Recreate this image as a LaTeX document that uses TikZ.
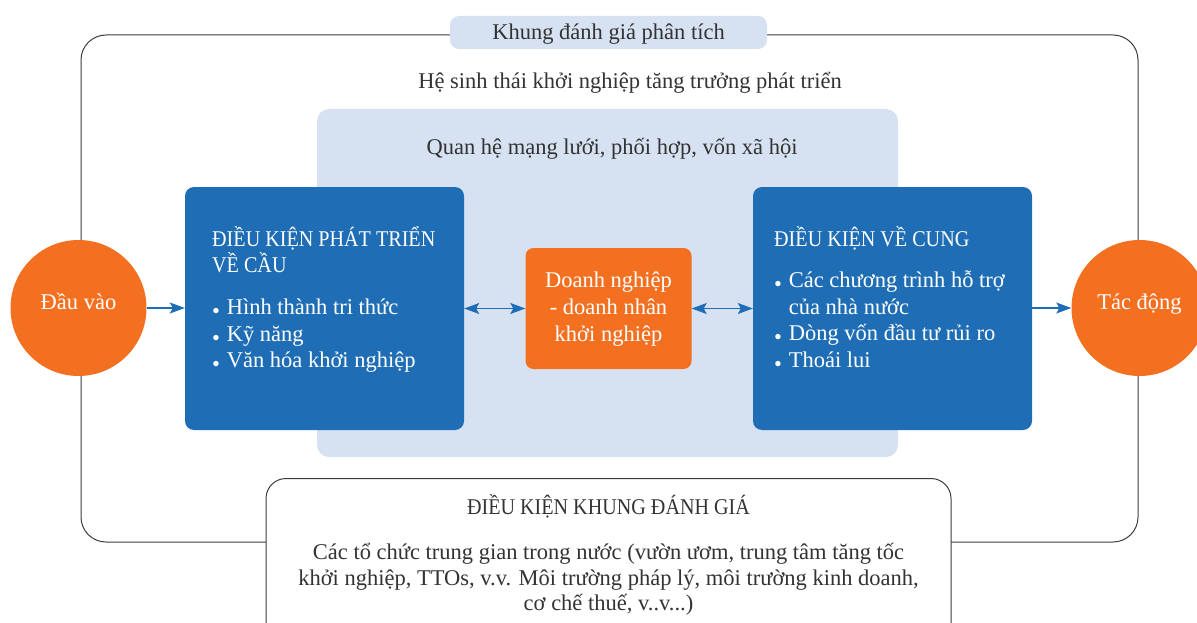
\documentclass[tikz,border=0pt]{standalone}
\usepackage{fontspec}
\setmainfont{Liberation Serif}
\newfontfamily\capsfont[FakeStretch=0.895]{Liberation Serif}
\usetikzlibrary{arrows.meta}
\definecolor{cblue}{RGB}{31,110,181}
\definecolor{corange}{RGB}{243,112,33}
\definecolor{cpale}{RGB}{214,225,242}
\definecolor{ctext}{RGB}{51,51,51}
\definecolor{cline}{RGB}{60,60,60}
\newcommand\bul{\makebox[14.6pt][l]{\raisebox{-4pt}{•}}}
\begin{document}
\begin{tikzpicture}[x=1pt,y=-1pt,
  txt/.style={inner sep=0pt, font=\fontsize{22.5}{27}\selectfont, text=ctext},
  wtxt/.style={txt, text=white},
  capstxt/.style={font=\fontsize{22.5}{27}\selectfont\capsfont},
  arr/.style={draw=cblue, line width=1.2pt, -{Stealth[length=15pt,width=11pt,inset=3pt]}},
  darr/.style={draw=cblue, line width=1.2pt, {Stealth[length=15pt,width=11pt,inset=3pt]}-{Stealth[length=15pt,width=11pt,inset=3pt]}},
  bluebox/.style={fill=cblue, rounded corners=9pt, inner sep=0pt, minimum width=279pt, minimum height=243pt},
  circ/.style={circle, fill=corange, minimum size=136pt, inner sep=0pt}
]
\useasboundingbox (0,0) rectangle (1197,623);
\clip (0,0) rectangle (1197,623);
% outer frame
\node[draw=cline, line width=1pt, rounded corners=25pt, inner sep=0pt, minimum width=1057pt, minimum height=507pt] (frame) at (609.5,288.5) {};
\node[fill=cpale, rounded corners=9pt, inner sep=0pt, minimum width=317pt, minimum height=33pt] (lab) at (608.5,32.5) {};
\node[txt, anchor=base] (t0) at (608.5,40) {Khung đánh giá phân tích};
\node[txt, anchor=base] (t1) at (630,89) {Hệ sinh thái khởi nghiệp tăng trưởng phát triển};
% pale panel
\node[fill=cpale, rounded corners=12pt, inner sep=0pt, minimum width=581pt, minimum height=348pt] (panel) at (607.5,283) {};
\node[txt, anchor=base] (t2) at (612,154) {Quan hệ mạng lưới, phối hợp, vốn xã hội};
% boxes
\node[bluebox] (lbox) at (324.5,308.5) {};
\node[bluebox] (rbox) at (892.5,308.5) {};
\node[fill=corange, rounded corners=8pt, inner sep=0pt, minimum width=166pt, minimum height=121pt] (org) at (608.5,308.5) {};
\node[circ] (in) at (78.5,308) {};
\node[circ] (out) at (1139.5,308) {};
% bottom box
\node[draw=cline, line width=1pt, fill=white, rounded corners=20pt, inner sep=0pt, minimum width=685pt, minimum height=200pt, anchor=north] (fbox) at (608.5,478) {};
% texts
\node[wtxt, anchor=base] (tin) at (78.5,309) {Đầu vào};
\node[wtxt, anchor=base] (tout) at (1139.5,309) {Tác động};
\node[wtxt, capstxt, anchor=base west] (l1) at (212,246) {ĐIỀU KIỆN PHÁT TRIỂN};
\node[wtxt, capstxt, anchor=base west] (l2) at (212,272.7) {VỀ CẦU};
\node[wtxt, anchor=base west] (l3) at (212,314.3) {\bul Hình thành tri thức};
\node[wtxt, anchor=base west] (l4) at (212,341) {\bul Kỹ năng};
\node[wtxt, anchor=base west] (l5) at (212,367.5) {\bul Văn hóa khởi nghiệp};
\node[wtxt, anchor=base] (o1) at (608.5,287.7) {Doanh nghiệp};
\node[wtxt, anchor=base] (o2) at (608.5,314.3) {- doanh nhân};
\node[wtxt, anchor=base] (o3) at (608.5,341) {khởi nghiệp};
\node[wtxt, capstxt, anchor=base west] (r1) at (774,246) {ĐIỀU KIỆN VỀ CUNG};
\node[wtxt, anchor=base west] (r2) at (774,287.7) {\bul Các chương trình hỗ trợ};
\node[wtxt, anchor=base west] (r3) at (788.6,314.3) {của nhà nước};
\node[wtxt, anchor=base west] (r4) at (774,340.7) {\bul Dòng vốn đầu tư rủi ro};
\node[wtxt, anchor=base west] (r5) at (774,367.3) {\bul Thoái lui};
\node[txt, capstxt, anchor=base] (b1) at (608.5,514) {ĐIỀU KIỆN KHUNG ĐÁNH GIÁ};
\node[txt, anchor=base] (b2) at (608.5,559.3) {Các tổ chức trung gian trong nước (vườn ươm, trung tâm tăng tốc};
\node[txt, anchor=base] (b3) at (608.5,585.7) {khởi nghiệp, TTOs, v.v. Môi trường pháp lý, môi trường kinh doanh,};
\node[txt, anchor=base] (b4) at (608.5,610.7) {cơ chế thuế, v..v...)};
% connectors
\draw[arr] (in.east) -- (in.east -| lbox.west);
\draw[darr] (lbox.east |- org.west) -- (org.west);
\draw[darr] (org.east) -- (org.east -| rbox.west);
\draw[arr] (rbox.east |- out.west) -- (out.west);
\end{tikzpicture}
\end{document}
